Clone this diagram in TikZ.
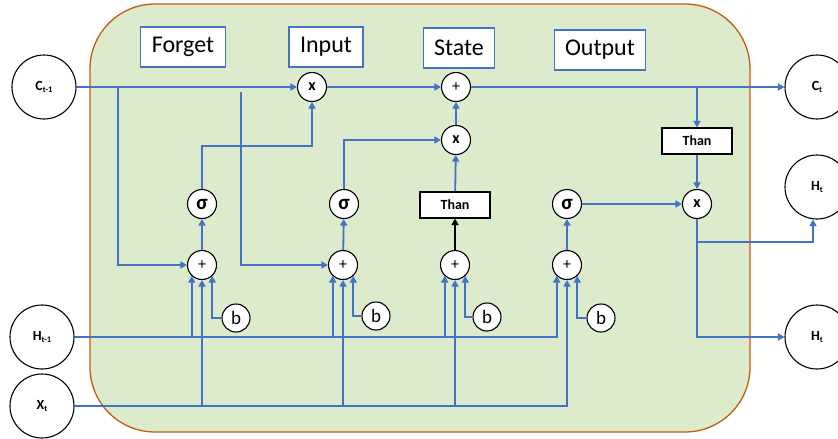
\documentclass[tikz,border=0pt]{standalone}
\usepackage{fontspec}
\setmainfont{Carlito}
\usetikzlibrary{arrows.meta,calc}
\definecolor{lblue}{HTML}{4472C4}
\definecolor{lgreen}{HTML}{DDEBCD}
\definecolor{lorange}{HTML}{C55A11}
\newcommand{\mylbl}[2]{{\fontsize{14}{16}\selectfont\bfseries #1}{\fontsize{8.5}{9}\selectfont\bfseries\raisebox{-2.5pt}{#2}}}
\begin{document}
\begin{tikzpicture}[x=1pt,y=-1pt,
  conn/.style={draw=lblue, line width=1.8pt, -{Triangle[width=7pt,length=6.5pt]}},
  bconn/.style={draw=black, line width=1.8pt, -{Triangle[width=7pt,length=6.5pt]}},
  big/.style={circle, draw, line width=1.1pt, fill=white, minimum size=64pt, inner sep=0pt},
  op/.style={circle, draw, line width=1.1pt, fill=white, minimum size=29pt, inner sep=0pt, font=\fontsize{16}{16}\selectfont\bfseries},
  addop/.style={op, font=\fontsize{16}{16}\selectfont},
  sigop/.style={op, font=\fontsize{21}{21}\selectfont\bfseries},
  bnode/.style={circle, draw, line width=1.1pt, fill=white, minimum size=28pt, inner sep=0pt, font=\fontsize{19}{20}\selectfont},
  titlebox/.style={draw=lblue, line width=1.1pt, fill=white, minimum height=40pt, inner xsep=11pt, font=\fontsize{24}{28}\selectfont},
  thanbox/.style={draw, line width=1.1pt, fill=white, minimum width=70pt, minimum height=26pt, inner sep=0pt, font=\fontsize{14}{16}\selectfont\bfseries}
]
\useasboundingbox (0,0) rectangle (838,439);
\draw[lorange, fill=lgreen, line width=1.3pt, rounded corners=65pt] (90,4) rectangle (750,432);

% titles
\node[titlebox] (tF) at (183,47) {Forget};
\node[titlebox] (tI) at (326,47) {Input};
\node[titlebox] (tS) at (459,48) {State};
\node[titlebox] (tO) at (600,50) {Output};

% external
\node[big] (Cin) at (44,87) {\mylbl{C}{t-1}};
\node[big] (Hin) at (42,337) {\mylbl{H}{t-1}};
\node[big] (Xin) at (42,406) {\mylbl{X}{t}};
\node[big] (Cout) at (817,87) {\mylbl{C}{t}};
\node[big] (Hout1) at (817,187) {\mylbl{H}{t}};
\node[big] (Hout2) at (817,337) {\mylbl{H}{t}};

% ops
\node[op] (mulI) at (312,87) {x};
\node[addop] (addS) at (456,87) {+};
\node[op] (mulS) at (456,140) {x};
\node[thanbox] (thanS) at (455,205) {Than};
\node[thanbox] (thanO) at (697,141) {Than};
\node[op] (mulO) at (697,204) {x};

\node[sigop] (sigF) at (202,204) {σ};
\node[sigop] (sigI) at (344,204) {σ};
\node[sigop] (sigO) at (567,204) {σ};

\node[addop] (addF) at (202,265) {+};
\node[addop] (addI) at (343,265) {+};
\node[addop] (addT) at (455,265) {+};
\node[addop] (addO) at (567,265) {+};

\node[bnode] (bF) at (236,318) {b};
\node[bnode] (bI) at (376,316) {b};
\node[bnode] (bS) at (487,317) {b};
\node[bnode] (bO) at (601,318) {b};

% cell state line
\draw[conn] (Cin) -- (mulI);
\draw[conn] (mulI) -- (addS);
\draw[conn] (addS) -- (Cout);

\coordinate (cF) at (118,87);
\coordinate (cI) at (241,92);
\draw[conn] (cF) |- (addF);
\draw[conn] (cI) |- (addI);

% sigma outputs
\coordinate (kF) at (202,146);
\coordinate (kI) at (344,140);
\draw[conn] (sigF) -- (kF) -| (mulI);
\draw[conn] (sigI) -- (kI) -- (mulS);
\draw[conn] (thanS) -- (mulS);
\draw[conn] (mulS) -- (addS);
\draw[bconn] (addT) -- (thanS);

\draw[conn] (addF) -- (sigF);
\draw[conn] (addI) -- (sigI);
\draw[conn] (addO) -- (sigO);
\draw[conn] (sigO) -- (mulO);

\coordinate (kO) at (697,87);
\draw[conn] (kO) -- (thanO);
\draw[conn] (thanO) -- (mulO);
\coordinate (kH) at (697,242);
\draw[conn] (mulO) -- (kH) -| ([xshift=-4pt]Hout1.south);
\draw[conn] (kH) |- (Hout2);

% H_{t-1} line
\draw[conn] (Hin) -| (addO.227);
\draw[conn] (addF.227 |- Hin) -- (addF.227);
\draw[conn] (addI.227 |- Hin) -- (addI.227);
\draw[conn] (addT.227 |- Hin) -- (addT.227);

% X_t line
\draw[conn] (Xin) -| (addO);
\draw[conn] (addF |- Xin) -- (addF);
\draw[conn] (addI |- Xin) -- (addI);
\draw[conn] (addT |- Xin) -- (addT);

% biases
\draw[conn] (bF) -| (addF.313);
\draw[conn] (bI) -| (addI.313);
\draw[conn] (bS) -| (addT.313);
\draw[conn] (bO) -| (addO.313);
\end{tikzpicture}
\end{document}
